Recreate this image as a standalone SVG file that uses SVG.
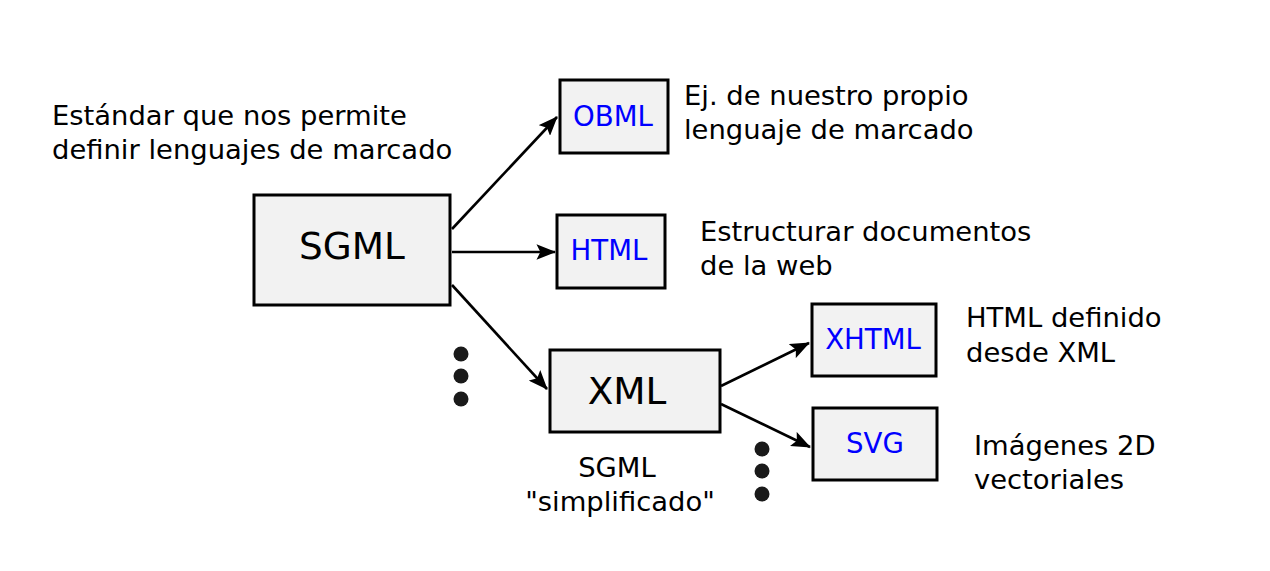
<svg xmlns="http://www.w3.org/2000/svg" width="1270" height="571" viewBox="0 0 1270 571">
<style>
.box{fill:#f2f2f2;stroke:#000;stroke-width:3}
.t{font-family:"DejaVu Sans",sans-serif;font-size:27.4px;fill:#000}
.b{font-family:"DejaVu Sans",sans-serif;font-size:27.6px;fill:#0000ff;text-anchor:middle}
.big{font-family:"DejaVu Sans",sans-serif;font-size:37.4px;fill:#000;text-anchor:middle}
.c{fill:none;stroke:#000;stroke-width:2.6;marker-end:url(#ah)}
.dot{fill:#1a1a1a}
</style>
<defs>
<marker id="ah" viewBox="0 0 10 8" refX="9.5" refY="4" markerWidth="7.5" markerHeight="6" orient="auto" markerUnits="strokeWidth">
<path d="M0,0 L10,4 L0,8 L2,4 Z" fill="#000"/>
</marker>
</defs>
<rect width="1270" height="571" fill="#fff"/>
<g id="connectors">
<line class="c" x1="452" y1="229" x2="557" y2="117"/>
<line class="c" x1="452" y1="252" x2="555" y2="252"/>
<line class="c" x1="452" y1="285" x2="547" y2="389"/>
<line class="c" x1="721" y1="386" x2="809" y2="343"/>
<line class="c" x1="721" y1="404" x2="810" y2="447"/>
</g>
<g id="sgml">
<rect class="box" x="254" y="195" width="196" height="110"/>
<text class="big" x="352" y="259">SGML</text>
</g>
<g id="obml">
<rect class="box" x="560" y="80" width="108" height="73"/>
<text class="b" x="613" y="126">OBML</text>
</g>
<g id="html">
<rect class="box" x="557" y="215" width="108" height="73"/>
<text class="b" x="609" y="260">HTML</text>
</g>
<g id="xml">
<rect class="box" x="550" y="350" width="170" height="82"/>
<text class="big" x="627" y="404">XML</text>
</g>
<g id="xhtml">
<rect class="box" x="812" y="304" width="124" height="72"/>
<text class="b" x="873" y="349">XHTML</text>
</g>
<g id="svg">
<rect class="box" x="813" y="408" width="124" height="72"/>
<text class="b" x="875" y="453">SVG</text>
</g>
<g id="labels">
<text class="t" x="52" y="125">Estándar que nos permite</text>
<text class="t" x="52" y="159">definir lenguajes de marcado</text>
<text class="t" x="684" y="105">Ej. de nuestro propio</text>
<text class="t" x="684" y="139">lenguaje de marcado</text>
<text class="t" x="700" y="241">Estructurar documentos</text>
<text class="t" x="700" y="275">de la web</text>
<text class="t" x="966" y="327">HTML definido</text>
<text class="t" x="966" y="362">desde XML</text>
<text class="t" x="974" y="455">Imágenes 2D</text>
<text class="t" x="974" y="489">vectoriales</text>
<text class="t" x="617" y="477" text-anchor="middle">SGML</text>
<text class="t" x="620" y="511" text-anchor="middle">"simplificado"</text>
</g>
<g id="dots">
<circle class="dot" cx="461" cy="354" r="7.5"/>
<circle class="dot" cx="461" cy="376" r="7.5"/>
<circle class="dot" cx="461" cy="399" r="7.5"/>
<circle class="dot" cx="762" cy="449" r="7.5"/>
<circle class="dot" cx="762" cy="471" r="7.5"/>
<circle class="dot" cx="762" cy="494" r="7.5"/>
</g>
</svg>
